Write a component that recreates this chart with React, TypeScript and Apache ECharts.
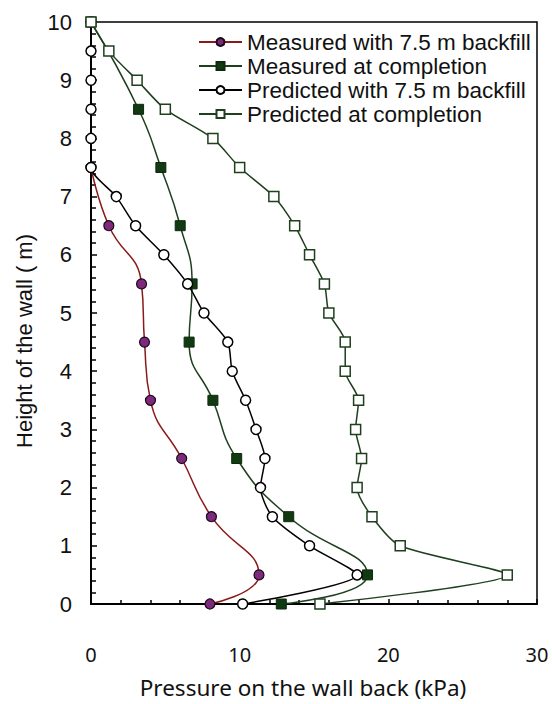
import React, { useEffect, useRef } from "react";
import * as echarts from "echarts";

const seriesNames = [
  "Measured with 7.5 m backfill",
  "Measured at completion",
  "Predicted with 7.5 m backfill",
  "Predicted at completion",
];

// [pressure kPa, height m]
const measuredBackfill: number[][] = [
  [0, 7.5], [1.2, 6.5], [3.4, 5.5], [3.6, 4.5], [4.0, 3.5],
  [6.1, 2.5], [8.1, 1.5], [11.3, 0.5], [8.0, 0],
];
const measuredCompletion: number[][] = [
  [0, 10], [3.2, 8.5], [4.7, 7.5], [6.0, 6.5], [6.8, 5.5], [6.6, 4.5],
  [8.2, 3.5], [9.8, 2.5], [13.3, 1.5], [18.6, 0.5], [12.8, 0],
];
const predictedBackfill: number[][] = [
  [0, 10], [0, 9.5], [0, 9], [0, 8.5], [0, 8], [0, 7.5], [1.7, 7], [3.0, 6.5],
  [4.9, 6], [6.5, 5.5], [7.6, 5], [9.2, 4.5], [9.5, 4], [10.4, 3.5], [11.1, 3],
  [11.7, 2.5], [11.4, 2], [12.2, 1.5], [14.7, 1], [17.9, 0.5], [10.2, 0],
];
const predictedCompletion: number[][] = [
  [0, 10], [1.2, 9.5], [3.1, 9], [5.0, 8.5], [8.2, 8], [10.0, 7.5], [12.3, 7],
  [13.7, 6.5], [14.7, 6], [15.7, 5.5], [16.0, 5], [17.1, 4.5], [17.1, 4],
  [18.0, 3.5], [17.8, 3], [18.2, 2.5], [17.9, 2], [18.9, 1.5], [20.8, 1],
  [28.0, 0.5], [15.4, 0],
];

const xTitle = "Pressure on the wall back (kPa)";
const yTitle = "Height of the wall ( m)";

export default function App() {
  const ref = useRef<HTMLDivElement>(null);
  useEffect(() => {
    if (!ref.current) return;
    const chart = echarts.init(ref.current, undefined, { renderer: "svg" });
    const font = "'Liberation Sans', Arial, sans-serif";
    const xFont = "'Noto Sans', 'Liberation Sans', sans-serif";
    chart.setOption({
      animation: false,
      backgroundColor: "#ffffff",
      grid: {
        left: 91, right: 15, top: 22, bottom: 97,
        show: true, borderColor: "#000", borderWidth: 1.5,
        backgroundColor: "transparent",
      },
      legend: {
        orient: "vertical",
        left: 193,
        top: 25,
        itemWidth: 43,
        itemHeight: 10,
        itemGap: 0,
        textStyle: { fontFamily: font, fontSize: 22.5, color: "#111", lineHeight: 24 },
        data: seriesNames,
      },
      xAxis: {
        type: "value",
        min: 0, max: 30, interval: 10,
        name: xTitle,
        nameLocation: "middle",
        nameGap: 72,
        nameTextStyle: { fontFamily: xFont, fontSize: 22.5, color: "#111", padding: [0, 22, 0, 0] },
        axisLine: { show: true, onZero: false, lineStyle: { color: "#000", width: 2 } },
        axisTick: { show: true, inside: true, length: 5, lineStyle: { color: "#000", width: 1.5 } },
        minorTick: { show: true, splitNumber: 5, length: 4, lineStyle: { color: "#000", width: 1.5 } },
        axisLabel: { fontFamily: xFont, fontSize: 20, color: "#111", margin: 40 },
        splitLine: { show: false },
      },
      yAxis: {
        type: "value",
        min: 0, max: 10, interval: 1,
        name: yTitle,
        nameLocation: "middle",
        nameGap: 56,
        nameTextStyle: { fontFamily: font, fontSize: 22, color: "#111", padding: [0, 56, 0, 0] },
        axisLine: { show: true, onZero: false, lineStyle: { color: "#000", width: 2 } },
        axisTick: { show: true, inside: true, length: 6, lineStyle: { color: "#000", width: 1.5 } },
        minorTick: { show: true, splitNumber: 5, length: 5, lineStyle: { color: "#000", width: 1.5 } },
        axisLabel: { fontFamily: font, fontSize: 22, color: "#111", margin: 19 },
        splitLine: { show: false },
      },
      series: [
        {
          name: seriesNames[0], type: "line", data: measuredBackfill,
          smooth: 0.5, symbol: "circle", symbolSize: 10,
          lineStyle: { color: "#8b1a1a", width: 1.5 },
          itemStyle: { color: "#7d2a7d", borderColor: "#1a0a1a", borderWidth: 1.2 },
          z: 2,
        },
        {
          name: seriesNames[1], type: "line", data: measuredCompletion,
          smooth: 0.5, symbol: "rect", symbolSize: 10,
          lineStyle: { color: "#1f3f1f", width: 1.5 },
          itemStyle: { color: "#123a12", borderColor: "#0d2a0d", borderWidth: 1 },
          z: 3,
        },
        {
          name: seriesNames[2], type: "line", data: predictedBackfill,
          smooth: 0.25, symbol: "circle", symbolSize: 10,
          lineStyle: { color: "#000", width: 1.5 },
          itemStyle: { color: "#fff", borderColor: "#000", borderWidth: 1.5 },
          z: 4,
        },
        {
          name: seriesNames[3], type: "line", data: predictedCompletion,
          smooth: 0.25, symbol: "rect", symbolSize: 10,
          lineStyle: { color: "#1f3f1f", width: 1.5 },
          itemStyle: { color: "#fff", borderColor: "#1f3f1f", borderWidth: 1.5 },
          z: 5,
        },
      ],
    });
    return () => chart.dispose();
  }, []);
  return <div ref={ref} style={{ width: 552, height: 704, position: "absolute", left: 0, top: 0 }} />;
}
